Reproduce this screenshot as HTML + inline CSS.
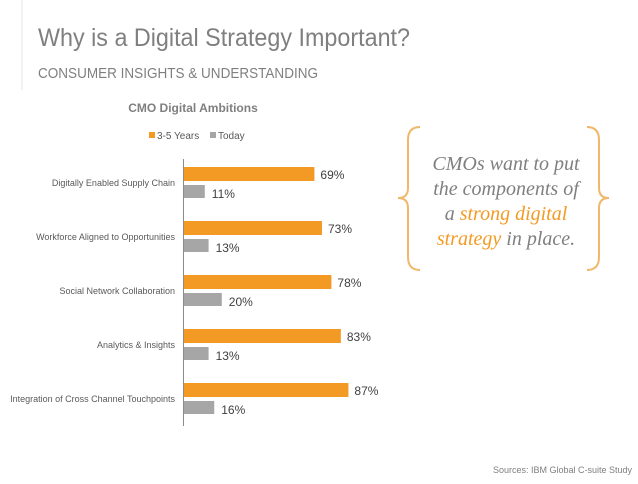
<!DOCTYPE html>
<html><head><meta charset="utf-8"><style>
body{margin:0;width:638px;height:479px;background:#fff;overflow:hidden;font-family:"Liberation Sans",sans-serif}
</style></head><body>
<svg width="638" height="479">
<line x1="22" y1="0" x2="22" y2="90" stroke="#e4e4e4" stroke-width="1"/>
<text x="38" y="46" font-size="25" fill="#7f7f7f" textLength="372" lengthAdjust="spacingAndGlyphs">Why is a Digital Strategy Important?</text>
<text x="38" y="78" font-size="15" fill="#7f7f7f" textLength="280" lengthAdjust="spacingAndGlyphs">CONSUMER INSIGHTS &amp; UNDERSTANDING</text>
<text x="193" y="112" font-size="12" font-weight="bold" fill="#7f7f7f" text-anchor="middle">CMO Digital Ambitions</text>
<g>
<rect x="149" y="132" width="6" height="6" fill="#f39a24"/>
<text x="157" y="139" font-size="10" fill="#595959">3-5 Years</text>
<rect x="210" y="132" width="6" height="6" fill="#a6a6a6"/>
<text x="218" y="139" font-size="10" fill="#595959">Today</text>
</g>
<line x1="183.5" y1="159" x2="183.5" y2="426" stroke="#8c8c8c"/>
<g id="bars"></g>
<g>
<path d="M420 127 Q408 127 408 140 L408 188 Q408 198 398 198 Q408 198 408 208 L408 257 Q408 270 420 270" fill="none" stroke="#f0b86b" stroke-width="2"/>
<path d="M587 127 Q599 127 599 140 L599 188 Q599 198 609 198 Q599 198 599 208 L599 257 Q599 270 587 270" fill="none" stroke="#f0b86b" stroke-width="2"/>
<g font-family="'Liberation Serif',serif" font-style="italic" font-size="20" text-anchor="middle" fill="#7f7f7f">
<text x="506" y="170">CMOs want to put</text>
<text x="506" y="195">the components of</text>
<text x="506" y="220">a <tspan fill="#f39a24">strong digital</tspan></text>
<text x="506" y="245"><tspan fill="#f39a24">strategy</tspan> in place.</text>
</g></g>
<text x="632" y="473" font-size="9" fill="#7f7f7f" text-anchor="end">Sources: IBM Global C-suite Study</text>
</svg>
<script>
const categories=["Digitally Enabled Supply Chain","Workforce Aligned to Opportunities","Social Network Collaboration","Analytics & Insights","Integration of Cross Channel Touchpoints"];
const future=[69,73,78,83,87];
const today=[11,13,20,13,16];
const NS="http://www.w3.org/2000/svg";
const g=document.getElementById('bars');
const x0=184,k=1.89;
function xs(v){return v*k;}
function rowY(i){return 167+i*54;}
function mk(t,a){const e=document.createElementNS(NS,t);for(const n in a)e.setAttribute(n,a[n]);g.appendChild(e);return e;}
categories.forEach((c,i)=>{
 const y=rowY(i);
 const l=mk('text',{x:175,y:y+19,'font-size':9,fill:'#595959','text-anchor':'end'});
 l.textContent=c;
 
 
 const b1=mk('rect',{x:x0,y:y,width:xs(future[i]),height:14,fill:'#f39a24'});
 
 
 const t1=mk('text',{x:x0+xs(future[i])+6,y:y+12,'font-size':12,fill:'#404040'});
 t1.textContent=future[i]+'%';
 
 
 const b2=mk('rect',{x:x0,y:y+18,width:xs(today[i]),height:13,fill:'#a6a6a6'});
 
 
 const t2=mk('text',{x:x0+xs(today[i])+7,y:y+31,'font-size':12,fill:'#404040'});
 t2.textContent=today[i]+'%';
 
 
});
</script>
</body></html>
